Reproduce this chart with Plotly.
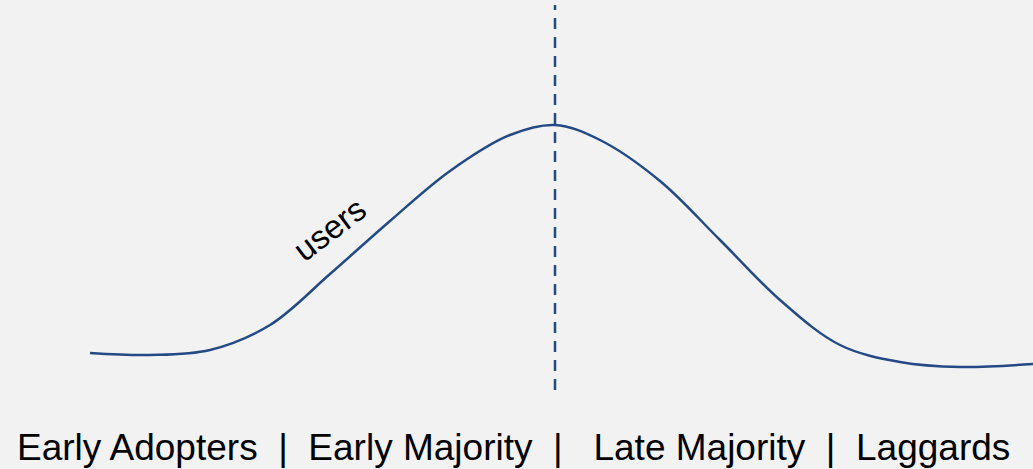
import plotly.graph_objects as go

# Adoption curve (horizontal position, user count level)
position = [90, 150, 210, 270, 330, 390, 450, 510, 555, 600, 660, 720, 780, 840, 900, 960, 1033]
users = [116, 114, 119, 144, 195, 248, 298, 334, 344, 329, 288, 229, 169, 124, 107, 102, 105]

peak_position = 555
segments = ["Early Adopters", "Early Majority", "Late Majority", "Laggards"]
separators = ["  |  ", "  |   ", "  |  "]

line_color = "#234a84"

fig = go.Figure()
fig.add_trace(go.Scatter(
    x=position, y=users, mode="lines",
    line=dict(color=line_color, width=2.5, shape="spline", smoothing=1.0),
    hoverinfo="skip", showlegend=False,
))
fig.add_trace(go.Scatter(
    x=[peak_position, peak_position], y=[79, 464], mode="lines",
    line=dict(color=line_color, width=2.5, dash="11px,8px"),
    hoverinfo="skip", showlegend=False,
))

label = segments[0]
for sep, seg in zip(separators, segments[1:]):
    label += sep + seg

fig.add_annotation(x=513.5, y=22, xref="x", yref="y", text=label,
                   showarrow=False, xanchor="center", yanchor="middle",
                   font=dict(family="Liberation Sans, Arial, sans-serif", size=37, color="#000000"))
fig.add_annotation(x=329, y=240, xref="x", yref="y", text="users",
                   showarrow=False, textangle=-37, xanchor="center", yanchor="middle",
                   font=dict(family="Liberation Sans, Arial, sans-serif", size=33, color="#000000"))

fig.update_layout(
    width=1033, height=469,
    margin=dict(l=0, r=0, t=0, b=0),
    paper_bgcolor="#f2f2f2", plot_bgcolor="#f2f2f2",
    xaxis=dict(range=[0, 1033], visible=False, fixedrange=True),
    yaxis=dict(range=[0, 469], visible=False, fixedrange=True),
)
fig.write_html("out.html", config={"displayModeBar": False},
               post_script="document.body.style.margin='0';document.body.style.background='#f2f2f2';")
